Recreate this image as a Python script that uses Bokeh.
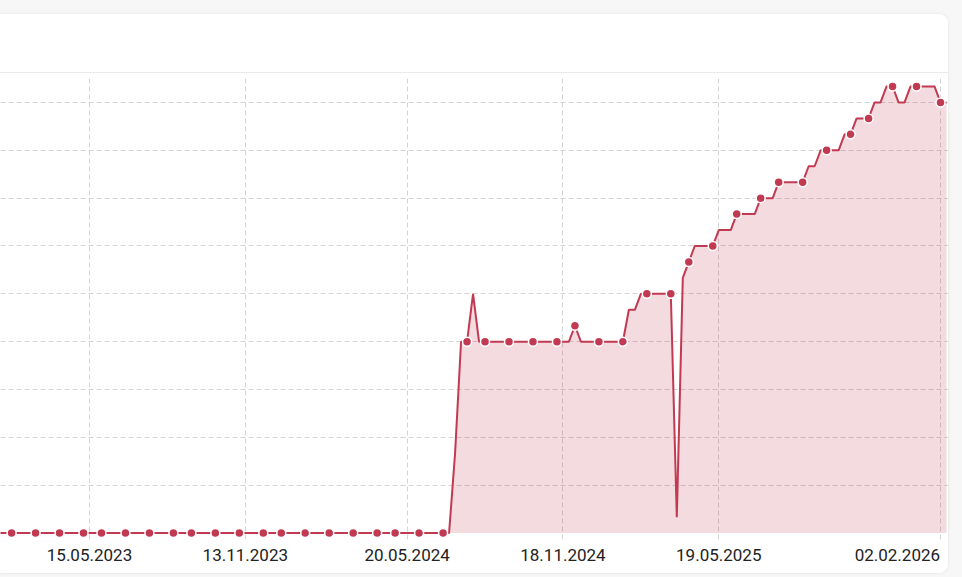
import pandas as pd
from bokeh.plotting import figure
from bokeh.models import Range1d, FixedTicker, Div, Column
from bokeh.embed import file_html
from bokeh.resources import INLINE

# ---- data (weekly values) ----
first_week = "2023-01-30"
values = [
    0, 0, 0, 0, 0, 0, 0, 0, 0, 0,
    0, 0, 0, 0, 0, 0, 0, 0, 0, 0,
    0, 0, 0, 0, 0, 0, 0, 0, 0, 0,
    0, 0, 0, 0, 0, 0, 0, 0, 0, 0,
    0, 0, 0, 0, 0, 0, 0, 0, 0, 0,
    0, 0, 0, 0, 0, 0, 0, 0, 0, 0,
    0, 0, 0, 0, 0, 0, 0, 0, 0, 0,
    0, 0, 0, 0, 0, 0,
    5, 12, 12, 15, 12,
    12, 12, 12, 12, 12, 12, 12, 12, 12, 12, 12, 12, 12, 12, 12,
    13,
    12, 12, 12, 12, 12, 12, 12, 12,
    14, 14, 15,
    15, 15, 15, 15, 15,
    1, 16, 17,
    18, 18, 18, 18,
    19, 19, 19,
    20, 20, 20, 20,
    21, 21, 21,
    22, 22, 22, 22, 22,
    23, 23,
    24, 24, 24, 24,
    25, 25,
    26, 26, 26,
    27, 27,
    28, 28,
    27, 27,
    28, 28, 28, 28, 28,
    27, 27,
]
# weeks that carry a visible marker (index into values)
marker_idx = [2, 6, 10, 14, 17, 21, 25, 29, 32, 36, 40, 44, 47, 51, 55, 59, 63, 66,
              70, 74, 78, 81, 85, 89, 93, 96, 100, 104, 108, 112, 115, 119, 123, 127,
              130, 134, 138, 142, 145, 149, 153, 157]
tick_dates = ["2023-05-15", "2023-11-13", "2024-05-20", "2024-11-18", "2025-05-19", "2026-02-02"]
tick_labels = ["15.05.2023", "13.11.2023", "20.05.2024", "18.11.2024", "19.05.2025", "02.02.2026"]
y_ticks = [3, 6, 9, 12, 15, 18, 21, 24, 27]

dates = pd.date_range(first_week, periods=len(values), freq="7D")
m_dates = [dates[i] for i in marker_idx]
m_vals = [values[i] for i in marker_idx]
tick_ms = [int(pd.Timestamp(d).value // 10**6) for d in tick_dates]

RED = "#c23a52"
FONT = "Roboto"

p = figure(width=948, height=500, x_axis_type="datetime",
           x_range=Range1d(pd.Timestamp("2023-01-31 01:12"), pd.Timestamp("2026-02-11 08:24")),
           y_range=Range1d(-0.4, 28.5),
           output_backend="svg", toolbar_location=None,
           min_border_left=0, min_border_right=0, min_border_top=5, min_border_bottom=34)
p.border_fill_color = "white"
p.background_fill_color = "white"
p.outline_line_color = None

# axes & grids
p.yaxis.visible = False
p.yaxis.ticker = FixedTicker(ticks=y_ticks)
p.ygrid.ticker = FixedTicker(ticks=y_ticks)
p.xaxis.ticker = FixedTicker(ticks=tick_ms)
overrides = {ms: lab for ms, lab in zip(tick_ms, tick_labels)}
# the last label is kept inside the card edge; a little right padding makes it end at its tick
overrides[tick_ms[-1]] = tick_labels[-1] + "\u00a0" * 2
p.xaxis.major_label_overrides = overrides
p.xaxis.axis_line_color = None
p.xaxis.major_tick_line_color = None
p.xaxis.minor_tick_line_color = None
p.xaxis.major_tick_out = 0
p.xaxis.major_label_standoff = 5
p.xaxis.major_label_text_font = FONT
p.xaxis.major_label_text_font_size = "17px"
p.xaxis.major_label_text_color = "#222222"
for g in (p.xgrid, p.ygrid):
    g.grid_line_color = "#d4d4d4"
    g.grid_line_dash = "5 3"
    g.grid_line_width = 1

# series
p.varea(x=dates, y1=0, y2=values, fill_color=RED, fill_alpha=0.18)
p.line(dates, values, line_color=RED, line_width=2)
p.scatter(m_dates, m_vals, size=9, fill_color=RED, line_color="white", line_width=1.5)

header = Div(text="", width=948, height=59, margin=0,
             styles={"border-bottom": "1px solid #ebebeb", "box-sizing": "border-box",
                     "background-color": "white"})
card = Column(children=[header, p], spacing=0,
              styles={"background-color": "white", "border-radius": "0 9px 9px 0",
                      "overflow": "hidden", "box-shadow": "0 0 3px rgba(0,0,0,0.10)"})
page = Column(children=[card], spacing=0,
              styles={"background-color": "#f7f7f7", "padding": "14px 14px 4px 0"})

open("out.html", "w").write(file_html(page, INLINE))
